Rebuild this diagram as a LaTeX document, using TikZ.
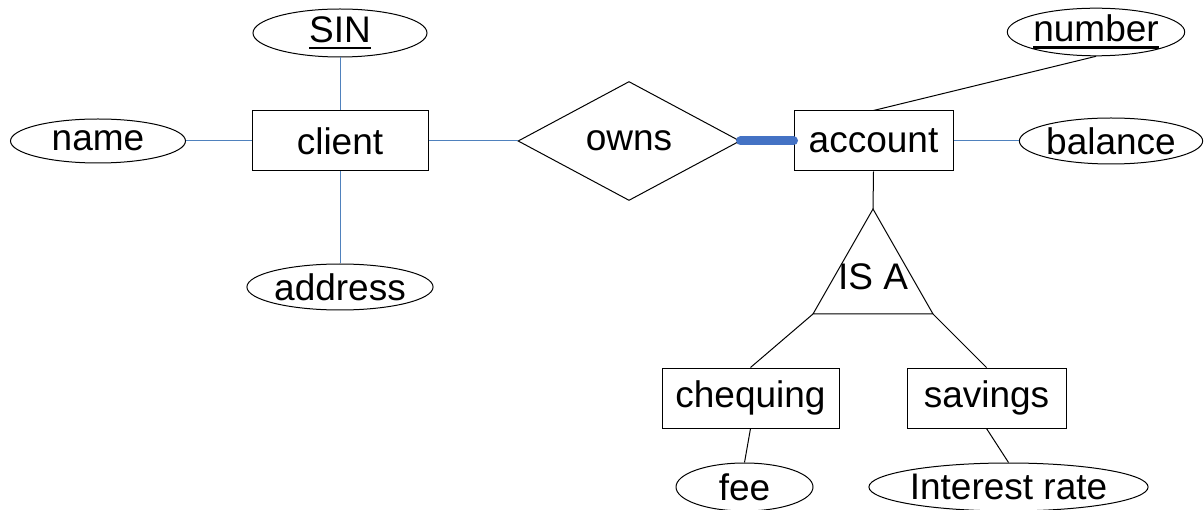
\documentclass[tikz,border=0pt]{standalone}
\usepackage{fontspec}
\setmainfont{Liberation Sans}
\usetikzlibrary{shapes.geometric}
\definecolor{thinblue}{RGB}{79,129,189}
\definecolor{thickblue}{RGB}{68,114,196}
\newcommand{\keyul}[1]{\leavevmode\vtop{\hbox{#1}\kern4pt\hrule height 2.5pt}}
\begin{document}
\begin{tikzpicture}[x=1pt,y=-1pt,
  every node/.style={font=\fontsize{37}{42}\selectfont, inner sep=0pt},
  entity/.style={draw, rectangle, line width=1pt},
  attr/.style={draw, ellipse, line width=1pt},
  rel/.style={draw, diamond, line width=1pt},
  blueline/.style={draw=thinblue, line width=1pt},
  blackline/.style={draw=black, line width=1pt},
  totalline/.style={draw=thickblue, line width=9pt, line cap=round}]
\useasboundingbox (0,0) rectangle (1204,510);
% entities
\node[entity, minimum width=176pt, minimum height=60pt] (client) at (340,141) {client};
\node[entity, minimum width=159pt, minimum height=60pt] (account) at (873.5,141) {account};
\node[entity, minimum width=177pt, minimum height=60pt] (chequing) at (750.5,398) {chequing};
\node[entity, minimum width=159pt, minimum height=60pt] (savings) at (986.5,398) {savings};
% relationship
\node[rel, aspect=1.87, minimum width=222pt, minimum height=119pt] (owns) at (629,141) {owns};
% attributes
\node[attr, minimum width=174pt, minimum height=48pt] (sin) at (340,33) {\keyul{SIN}};
\node[attr, minimum width=175pt, minimum height=44pt] (name) at (98,141) {name};
\node[attr, minimum width=185pt, minimum height=46pt] (address) at (340,287) {address};
\node[attr, minimum width=173pt, minimum height=46pt] (number) at (1096,32) {\keyul{number}};
\node[attr, minimum width=175pt, minimum height=46pt] (balance) at (1111,141) {balance};
\node[attr, minimum width=137pt, minimum height=48pt] (fee) at (744.5,487) {fee};
\node[attr, minimum width=279pt, minimum height=48pt] (interest) at (1008.5,487) {Interest rate};
% ISA triangle
\coordinate (tA) at (873,209);
\coordinate (tL) at (813,314);
\coordinate (tR) at (933,314);
\draw[line width=1pt] (tA) -- (tL) -- (tR) -- cycle;
\node (isa) at (873,277) {IS A};
% connectors
\draw[blueline] (sin) -- (client);
\draw[blueline] (name) -- (client);
\draw[blueline] (client) -- (address);
\draw[blueline] (client) -- (owns);
\draw[totalline] (owns.east) -- (account.west);
\draw[blueline] (account) -- (balance);
\draw[blackline] (account.north) -- (number.south);
\draw[blackline] (account.south) -- (tA);
\draw[blackline] (tL) -- (chequing.north);
\draw[blackline] (tR) -- (savings.north);
\draw[blackline] (chequing.south) -- (fee.north);
\draw[blackline] (savings.south) -- (interest.north);
\end{tikzpicture}
\end{document}
